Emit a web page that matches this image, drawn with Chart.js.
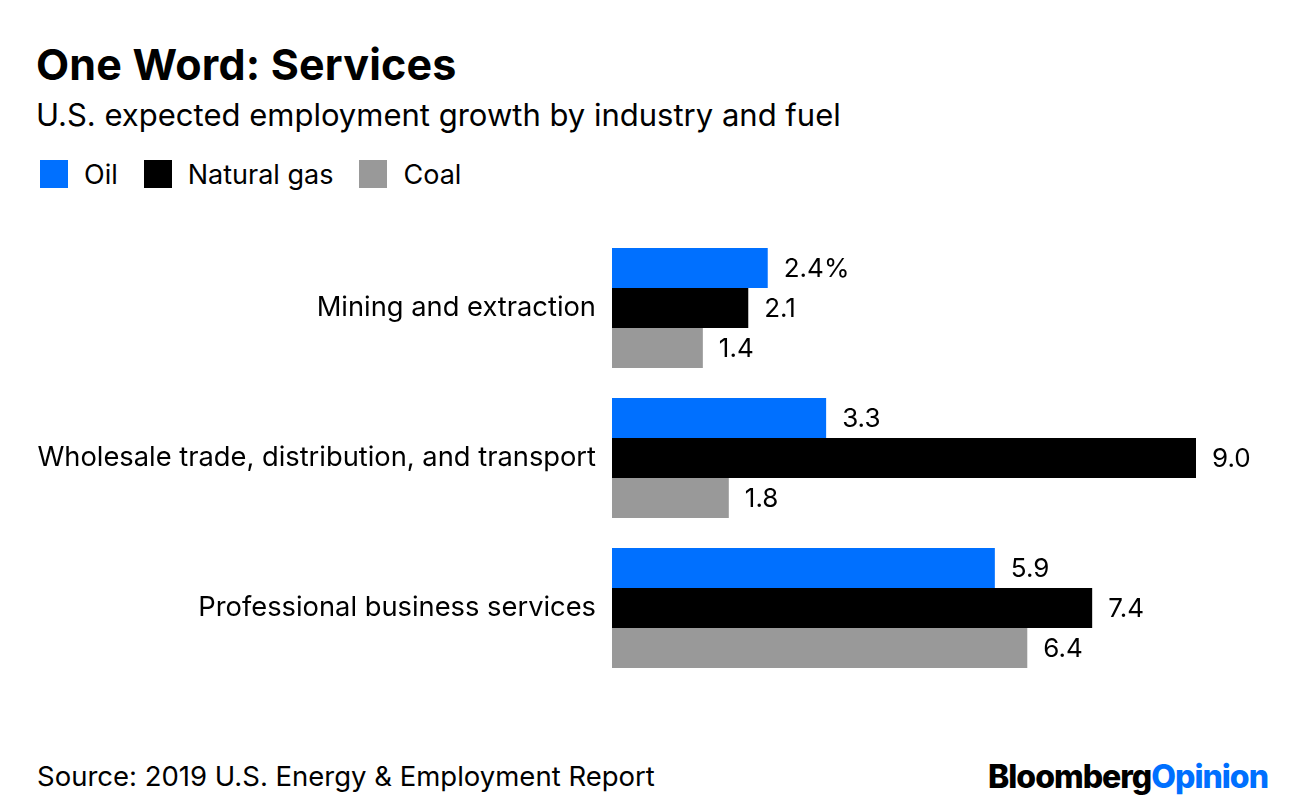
<!DOCTYPE html>
<html>
<head>
<meta charset="utf-8">
<script src="https://cdn.jsdelivr.net/npm/chart.js@4"></script>
<style>
  body { margin: 0; width: 1296px; height: 810px; background: #fff; font-family: Inter, "Liberation Sans", Arial, sans-serif; color: #000; position: relative; overflow: hidden; }
  div { line-height: 1; }
  .title { position: absolute; left: 36px; top: 43px; font-size: 43px; font-weight: bold; letter-spacing: 0.2px; }
  .subtitle { position: absolute; left: 36px; top: 99px; font-size: 31px; }
  .legend { position: absolute; left: 40px; top: 160px; font-size: 27px; display: flex; align-items: center; }
  .legend .sw { width: 28px; height: 28px; display: inline-block; margin-right: 16px; }
  .legend .item { display: flex; align-items: center; margin-right: 26px; }
  .source { position: absolute; left: 37px; top: 763px; font-size: 27.5px; }
  .logo { position: absolute; right: 28px; top: 761px; font-size: 32px; font-weight: 800; letter-spacing: -1px; }
  .logo span { color: #0070FF; }
  #wrap { position: absolute; left: 0; top: 233px; width: 1296px; height: 450px; }
</style>
</head>
<body>
<div class="title">One Word: Services</div>
<div class="subtitle">U.S. expected employment growth by industry and fuel</div>
<div class="legend">
  <div class="item"><span class="sw" style="background:#0070FF"></span>Oil</div>
  <div class="item"><span class="sw" style="background:#000"></span>Natural gas</div>
  <div class="item"><span class="sw" style="background:#999"></span>Coal</div>
</div>
<div id="wrap"><canvas id="chart"></canvas></div>
<div class="source">Source: 2019 U.S. Energy &amp; Employment Report</div>
<div class="logo">Bloomberg<span>Opinion</span></div>
<script>
const industries = ["Mining and extraction", "Wholesale trade, distribution, and transport", "Professional business services"];
const oil = [2.4, 3.3, 5.9];
const naturalGas = [2.1, 9.0, 7.4];
const coal = [1.4, 1.8, 6.4];

const fontFamily = 'Inter, "Liberation Sans", Arial, sans-serif';

// value labels at bar ends, first one carries the % sign
const valueLabels = {
  id: "valueLabels",
  afterDatasetsDraw(chart) {
    const ctx = chart.ctx;
    ctx.save();
    ctx.font = "26px " + fontFamily;
    ctx.fillStyle = "#000";
    ctx.textBaseline = "middle";
    ctx.textAlign = "left";
    chart.data.datasets.forEach((ds, di) => {
      chart.getDatasetMeta(di).data.forEach((bar, i) => {
        let txt = ds.data[i].toFixed(1);
        if (di === 0 && i === 0) txt += "%";
        ctx.fillText(txt, bar.x + 16, bar.y + 1);
      });
    });
    ctx.restore();
  },
};

new Chart(document.getElementById("chart"), {
  type: "bar",
  data: {
    labels: industries,
    datasets: [
      { label: "Oil", data: oil, backgroundColor: "#0070FF" },
      { label: "Natural gas", data: naturalGas, backgroundColor: "#000000" },
      { label: "Coal", data: coal, backgroundColor: "#999999" },
    ],
  },
  options: {
    indexAxis: "y",
    responsive: true,
    maintainAspectRatio: false,
    animation: false,
    datasets: { bar: { categoryPercentage: 0.8, barPercentage: 1, borderWidth: 0 } },
    layout: { padding: { left: 0, right: 100, top: 0, bottom: 0 } },
    scales: {
      x: { display: false, min: 0, max: 9 },
      y: {
        grid: { display: false, drawTicks: false },
        border: { display: false },
        afterFit(scale) {
          scale.width = 612;
          scale.paddingTop = 0;
          scale.paddingBottom = 0;
        },
        ticks: {
          padding: 16,
          color: "#000",
          font: { size: 27.3, family: fontFamily },
        },
      },
    },
    plugins: {
      legend: { display: false },
      tooltip: { enabled: false },
    },
  },
  plugins: [valueLabels],
});
</script>
</body>
</html>
